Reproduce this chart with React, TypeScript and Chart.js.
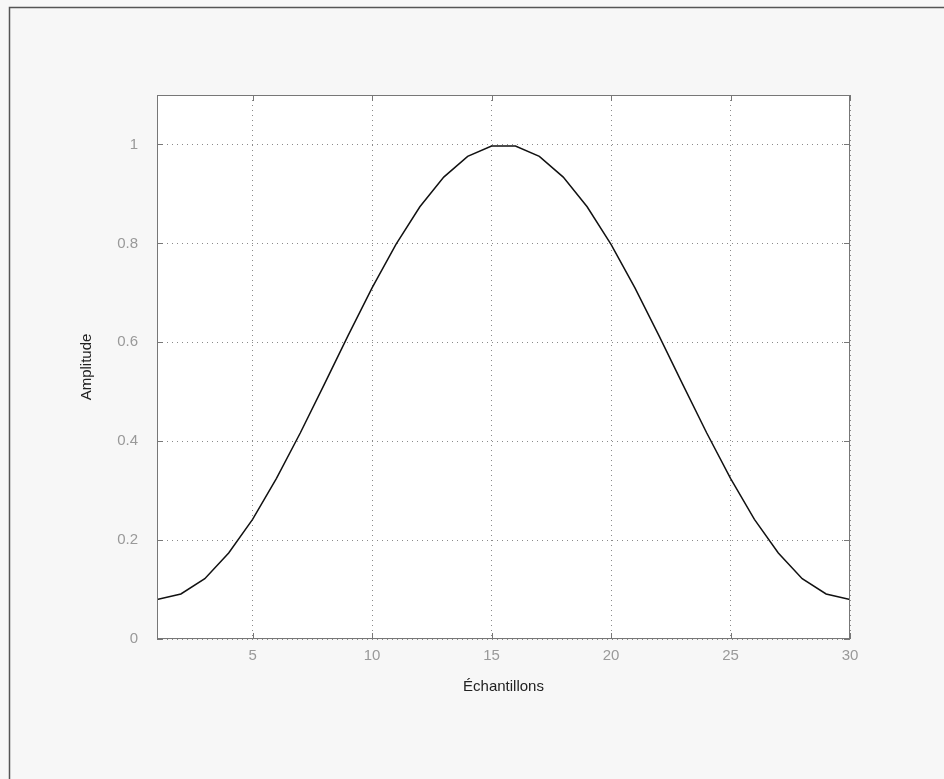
import React, { useEffect, useRef } from "react";
import { Chart, registerables } from "chart.js";

Chart.register(...registerables);

const samples: number[] = [1, 2, 3, 4, 5, 6, 7, 8, 9, 10, 11, 12, 13, 14, 15, 16, 17, 18, 19, 20, 21, 22, 23, 24, 25, 26, 27, 28, 29, 30];
const amplitude: number[] = [0.08, 0.091, 0.122, 0.174, 0.242, 0.325, 0.417, 0.515, 0.614, 0.71, 0.798, 0.874, 0.934, 0.976, 0.997, 0.997, 0.976, 0.934, 0.874, 0.798, 0.71, 0.614, 0.515, 0.417, 0.325, 0.242, 0.174, 0.122, 0.091, 0.08];
const xTicks: number[] = [5, 10, 15, 20, 25, 30];
const yTicks: number[] = [0, 0.2, 0.4, 0.6, 0.8, 1];
const yTickLabels: string[] = ["0", "0.2", "0.4", "0.6", "0.8", "1"];
const xLabel = "Échantillons";
const yLabel = "Amplitude";

const FONT = "'Liberation Sans', Arial, Helvetica, sans-serif";

const framePlugin = {
  id: "framePlugin",
  beforeDraw(chart: any) {
    const { ctx, chartArea: a } = chart;
    ctx.save();
    ctx.fillStyle = "#f7f7f7";
    ctx.fillRect(0, 0, chart.width, chart.height);
    ctx.strokeStyle = "#555";
    ctx.lineWidth = 1.5;
    ctx.strokeRect(9.5, 7.5, chart.width + 10, chart.height + 10);
    ctx.fillStyle = "#ffffff";
    ctx.fillRect(a.left, a.top, a.right - a.left, a.bottom - a.top);
    ctx.restore();
  },
  afterDraw(chart: any) {
    const { ctx, chartArea: a, scales } = chart;
    ctx.save();
    ctx.strokeStyle = "#777";
    ctx.lineWidth = 1;
    ctx.strokeRect(a.left + 0.5, a.top + 0.5, a.right - a.left - 1, a.bottom - a.top - 1);
    const t = 6;
    ctx.beginPath();
    xTicks.forEach((v) => {
      const x = Math.round(scales.x.getPixelForValue(v)) + 0.5;
      ctx.moveTo(x, a.bottom);
      ctx.lineTo(x, a.bottom - t);
      ctx.moveTo(x, a.top);
      ctx.lineTo(x, a.top + t);
    });
    yTicks.forEach((v) => {
      const y = Math.round(scales.y.getPixelForValue(v)) + 0.5;
      ctx.moveTo(a.left, y);
      ctx.lineTo(a.left + t, y);
      ctx.moveTo(a.right, y);
      ctx.lineTo(a.right - t, y);
    });
    ctx.stroke();
    ctx.restore();
  },
};

export default function App() {
  const ref = useRef<HTMLCanvasElement | null>(null);
  useEffect(() => {
    document.body.style.margin = "0";
    const chart = new Chart(ref.current as HTMLCanvasElement, {
      type: "line",
      data: {
        datasets: [
          {
            data: samples.map((x, i) => ({ x, y: amplitude[i] })),
            borderColor: "#111",
            borderWidth: 1.5,
            pointRadius: 0,
            tension: 0,
            fill: false,
          },
        ],
      },
      options: {
        animation: false,
        responsive: false,
        maintainAspectRatio: false,
        layout: { padding: { left: 74, top: 95, right: 94, bottom: 79 } },
        plugins: { legend: { display: false }, tooltip: { enabled: false } },
        scales: {
          x: {
            type: "linear",
            min: 1,
            max: 30,
            afterBuildTicks: (s: any) => {
              s.ticks = xTicks.map((v) => ({ value: v }));
            },
            afterFit: (s: any) => {
              s.height = 61;
            },
            border: { display: false, dash: [1, 4] },
            grid: { color: "#8a8a8a", drawTicks: false, lineWidth: 1 },
            ticks: { color: "#999", font: { family: FONT, size: 15 }, padding: 8, maxRotation: 0, callback: (v: any) => String(v) },
            title: { display: true, text: xLabel, color: "#222", font: { family: FONT, size: 15 }, padding: 4 },
          },
          y: {
            type: "linear",
            min: 0,
            max: 1.1,
            afterBuildTicks: (s: any) => {
              s.ticks = yTicks.map((v) => ({ value: v }));
            },
            afterFit: (s: any) => {
              s.width = 83;
            },
            border: { display: false, dash: [1, 4] },
            grid: { color: "#8a8a8a", drawTicks: false, lineWidth: 1 },
            ticks: {
              color: "#999",
              font: { family: FONT, size: 15 },
              padding: 19,
              callback: (v: any) => {
                const i = yTicks.indexOf(v);
                return i >= 0 ? yTickLabels[i] : "";
              },
            },
            title: { display: true, text: yLabel, color: "#222", font: { family: FONT, size: 15 }, padding: 4 },
          },
        },
      } as any,
      plugins: [framePlugin],
    });
    return () => chart.destroy();
  }, []);
  return (
    <div style={{ width: 944, height: 779 }}>
      <canvas ref={ref} width={944} height={779} style={{ display: "block", width: 944, height: 779 }} />
    </div>
  );
}
